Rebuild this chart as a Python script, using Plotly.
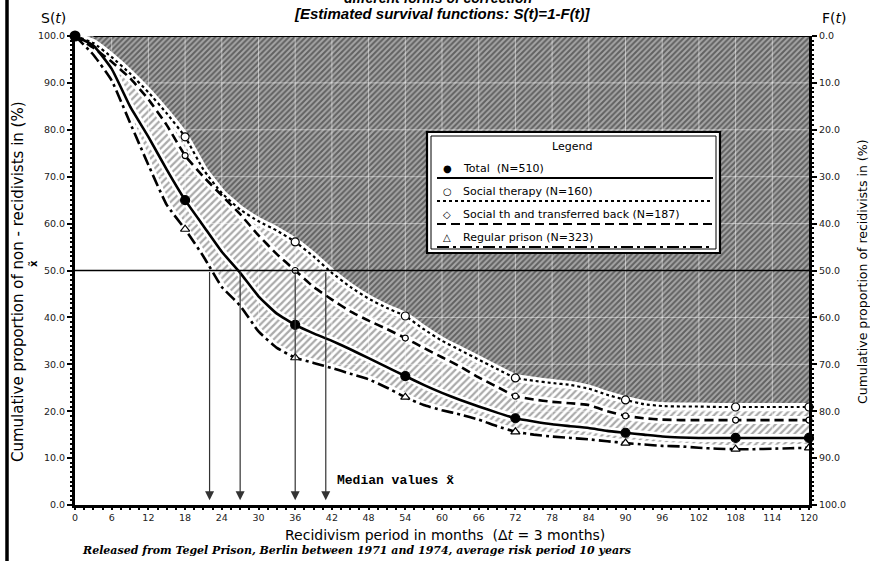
import plotly.graph_objects as go

# Survival functions S(t) in percent, sampled every 3 months
months = list(range(0, 121, 3))
total = [100, 98, 93, 85, 78.5, 71.5, 65, 59.5, 54, 49.5, 44.5, 40.8, 38.4, 36.6,
         35, 33.2, 31.3, 29.4, 27.5, 25.6, 23.9, 22.4, 21, 19.7, 18.5, 17.8, 17.2,
         16.8, 16.4, 15.8, 15.4, 15, 14.6, 14.4, 14.3, 14.3, 14.3, 14.3, 14.3, 14.3, 14.3]
social_therapy = [100, 98.5, 95.5, 92, 88, 83.5, 78.5, 71.5, 66.5, 63, 60.5, 58.5, 56.1,
                  53, 49.5, 46.5, 44, 42, 40.3, 37.5, 35, 33, 31, 29, 27.1, 26.5, 26,
                  25.6, 24.8, 23.5, 22.4, 21.5, 21.1, 21, 21, 20.9, 20.9, 20.9, 20.9, 20.9, 20.9]
transferred_back = [100, 97.5, 94.5, 91, 86.5, 81, 74.5, 70, 66, 62, 57.5, 53.5, 50,
                    46.5, 43.8, 41.3, 39.3, 37.5, 35.6, 33.5, 31.5, 29.5, 27.2, 25.2, 23.2,
                    22.5, 22, 21.7, 21.3, 20, 19, 18.5, 18.2, 18.1, 18.1, 18.1, 18.1, 18.1,
                    18.1, 18.1, 18.1]
regular_prison = [100, 96, 90.5, 81.5, 72.5, 64, 58.8, 53, 46.5, 42.5, 37, 33.5, 31.4,
                  30.3, 29.2, 28, 26.8, 25, 23, 21.3, 20.2, 19.3, 18.2, 16.8, 15.6, 15,
                  14.6, 14.3, 14, 13.6, 13.2, 12.9, 12.6, 12.5, 12.2, 12, 11.9, 11.9, 12,
                  12.1, 12.2]
marker_months = [18, 36, 54, 72, 90, 108, 120]
median_months = [22, 27, 36, 41]
x_ticks = list(range(0, 121, 6))
y_ticks = list(range(0, 101, 10))
top_line = [100] * len(months)

W, H = 870, 561
ML, MR, MT, MB = 75, 61, 36, 56
PW, PH = W - ML - MR, H - MT - MB


def px(x):
    return (x - ML) / PW


def py(y):
    return (H - MB - y) / PH


def at(series, ts):
    lookup = dict(zip(months, series))
    return [lookup[t] for t in ts]


FONT = "DejaVu Sans"
fig = go.Figure()

# Lower boundary of the light band
fig.add_trace(go.Scatter(x=months, y=regular_prison, mode="lines",
                         line=dict(width=0), hoverinfo="skip", showlegend=False))
# Light hatched band between the extreme curves
fig.add_trace(go.Scatter(x=months, y=social_therapy, mode="lines", fill="tonexty",
                         fillcolor="white",
                         fillpattern=dict(shape="/", fgcolor="#555555", bgcolor="white",
                                          size=5, solidity=0.45),
                         line=dict(width=0), hoverinfo="skip", showlegend=False))
# Dark hatched area above the highest survival curve
fig.add_trace(go.Scatter(x=months, y=top_line, mode="lines", fill="tonexty",
                         fillcolor="#8a8a8a",
                         fillpattern=dict(shape="/", fgcolor="#1c1c1c", bgcolor="#a6a6a6",
                                          size=4, solidity=0.5),
                         line=dict(width=0), hoverinfo="skip", showlegend=False))

# Light grid over the hatching
gx, gy = [], []
for t in x_ticks[1:-1]:
    gx += [t, t, None]
    gy += [0, 100, None]
for v in y_ticks[1:-1]:
    gx += [0, 120, None]
    gy += [v, v, None]
fig.add_trace(go.Scatter(x=gx, y=gy, mode="lines",
                         line=dict(color="rgba(255,255,255,0.5)", width=1),
                         hoverinfo="skip", showlegend=False))

series = [
    (social_therapy, "dot", 2.2, "circle", 8, "white"),
    (transferred_back, "9px,5px", 2.6, "circle", 6, "white"),
    (total, "solid", 2.6, "circle", 9, "black"),
    (regular_prison, "12px,4px,3px,4px", 2.6, "triangle-up", 8, "white"),
]

# White halos around each curve
for ys, *_ in series:
    fig.add_trace(go.Scatter(x=months, y=ys, mode="lines",
                             line=dict(color="white", width=8, shape="spline", smoothing=0.4),
                             hoverinfo="skip", showlegend=False))

for ys, dash, lw, sym, ms, mfill in series:
    fig.add_trace(go.Scatter(x=months, y=ys, mode="lines",
                             line=dict(color="black", width=lw, dash=dash,
                                       shape="spline", smoothing=0.4),
                             showlegend=False))

for ys, dash, lw, sym, ms, mfill in series:
    fig.add_trace(go.Scatter(x=marker_months, y=at(ys, marker_months), mode="markers",
                             marker=dict(symbol=sym, size=ms, color=mfill,
                                         line=dict(color="black", width=1.2)),
                             cliponaxis=False, showlegend=False))

# Starting point of all curves
fig.add_trace(go.Scatter(x=[months[0]], y=[total[0]], mode="markers",
                         marker=dict(symbol="circle", size=11, color="black"),
                         cliponaxis=False, showlegend=False))

# Recidivism function F(t) = 100 - S(t) on the right axis
fig.add_trace(go.Scatter(x=months, y=[100 - v for v in total], yaxis="y2",
                         mode="lines", line=dict(width=0), opacity=0,
                         hoverinfo="skip", showlegend=False))

shapes = []
# 50 % line
shapes.append(dict(type="line", xref="x", yref="y", x0=0, x1=120, y0=50, y1=50,
                   line=dict(color="black", width=1.3), layer="above"))
# Upper frame of the dark area
shapes.append(dict(type="line", xref="x", yref="y", x0=months[1], x1=120, y0=100, y1=100,
                   line=dict(color="black", width=2.2), layer="above"))
# Page edge
shapes.append(dict(type="line", xref="paper", yref="paper", x0=px(7), x1=px(7),
                   y0=py(H), y1=py(0), line=dict(color="black", width=3.5)))

# Legend box
shapes.append(dict(type="rect", xref="paper", yref="paper", x0=px(427), x1=px(720),
                   y0=py(253), y1=py(132), line=dict(color="black", width=2.2),
                   fillcolor="white", layer="above"))
shapes.append(dict(type="rect", xref="paper", yref="paper", x0=px(431), x1=px(716),
                   y0=py(249), y1=py(136), line=dict(color="black", width=1),
                   layer="above"))
legend_rows = [
    ("●", "Total  (N=510)", "solid", 2.2, 168),
    ("○", "Social therapy (N=160)", "dot", 2.0, 191),
    ("◇", "Social th and transferred back (N=187)", "9px,5px", 2.2, 214),
    ("△", "Regular prison (N=323)", "12px,4px,3px,4px", 2.2, 237),
]
annotations = []
for sym, label, dash, lw, ypix in legend_rows:
    shapes.append(dict(type="line", xref="paper", yref="paper", x0=px(437), x1=px(713),
                       y0=py(ypix + 10), y1=py(ypix + 10),
                       line=dict(color="black", width=lw, dash=dash), layer="above"))
    annotations.append(dict(xref="paper", yref="paper", x=px(447), y=py(ypix),
                            text=sym, showarrow=False, xanchor="center", yanchor="middle",
                            font=dict(family=FONT, size=10, color="black")))
    annotations.append(dict(xref="paper", yref="paper", x=px(461), y=py(ypix),
                            text=label, showarrow=False, xanchor="left", yanchor="middle",
                            font=dict(family=FONT, size=11, color="black")))
annotations.append(dict(xref="paper", yref="paper", x=px(572), y=py(146), text="Legend",
                        showarrow=False, xanchor="center", yanchor="middle",
                        font=dict(family=FONT, size=11, color="black")))

# Median arrows
for m in median_months:
    annotations.append(dict(xref="x", yref="y", axref="x", ayref="y", x=m, y=1,
                            ax=m, ay=50, text="", showarrow=True, arrowhead=2,
                            arrowsize=1.5, arrowwidth=1.2, arrowcolor="#333"))
annotations.append(dict(xref="paper", yref="paper", x=px(335), y=py(480),
                        text="<b>Median values x̃</b>", showarrow=False, xanchor="left",
                        yanchor="middle",
                        font=dict(family="Liberation Mono", size=13, color="black")))

# Titles and axis captions
annotations += [
    dict(xref="paper", yref="paper", x=px(438), y=py(-2),
         text="<b><i>different forms of correction</i></b>", showarrow=False,
         xanchor="center", yanchor="middle",
         font=dict(family="Liberation Sans", size=14, color="black")),
    dict(xref="paper", yref="paper", x=px(442), y=py(14),
         text="<b><i>[Estimated survival functions: S(t)=1-F(t)]</i></b>", showarrow=False,
         xanchor="center", yanchor="middle",
         font=dict(family="Liberation Sans", size=15, color="black")),
    dict(xref="paper", yref="paper", x=px(53), y=py(18), text="S(<i>t</i>)",
         showarrow=False, xanchor="center", yanchor="middle",
         font=dict(family=FONT, size=14, color="black")),
    dict(xref="paper", yref="paper", x=px(834), y=py(18), text="F(<i>t</i>)",
         showarrow=False, xanchor="center", yanchor="middle",
         font=dict(family=FONT, size=14, color="black")),
    dict(xref="paper", yref="paper", x=px(18), y=py(282),
         text="Cumulative proportion of non - recidivists in (%)", textangle=-90,
         showarrow=False, xanchor="center", yanchor="middle",
         font=dict(family=FONT, size=15, color="black")),
    dict(xref="paper", yref="paper", x=px(862), y=py(272),
         text="Cumulative proportion of recidivists in (%)", textangle=-90,
         showarrow=False, xanchor="center", yanchor="middle",
         font=dict(family=FONT, size=12.5, color="black")),
    dict(xref="paper", yref="paper", x=px(33), y=py(264), text="<b>x̃</b>", textangle=-90,
         showarrow=False, xanchor="center", yanchor="middle",
         font=dict(family=FONT, size=10, color="black")),
    dict(xref="paper", yref="paper", x=px(445), y=py(535),
         text="Recidivism period in months  (Δ<i>t</i> = 3 months)", showarrow=False,
         xanchor="center", yanchor="middle",
         font=dict(family=FONT, size=14, color="black")),
    dict(xref="paper", yref="paper", x=px(80), y=py(550),
         text="<b><i>Released from Tegel Prison, Berlin between 1971 and 1974, average risk period 10 years</i></b>",
         showarrow=False, xanchor="left", yanchor="middle",
         font=dict(family="DejaVu Serif", size=11, color="black")),
]

tick_font = dict(family=FONT, size=9.5, color="#222")
fig.update_layout(
    width=W, height=H, autosize=False,
    margin=dict(l=ML, r=MR, t=MT, b=MB),
    paper_bgcolor="white", plot_bgcolor="white",
    showlegend=False,
    shapes=shapes, annotations=annotations,
    xaxis=dict(range=[0, 120], tickmode="array", tickvals=x_ticks,
               ticktext=[str(t) for t in x_ticks], ticks="outside", ticklen=2,
               tickwidth=1.5, tickcolor="black", showline=True, linewidth=3,
               linecolor="black", showgrid=False, zeroline=False, tickfont=tick_font,
               minor=dict(dtick=1.5, tick0=0, ticks="outside", ticklen=2,
                          tickcolor="black", showgrid=False),
               layer="above traces"),
    yaxis=dict(range=[0, 100], tickmode="array", tickvals=y_ticks,
               ticktext=[f"{v:.1f}" for v in y_ticks], ticks="outside", ticklen=5,
               tickwidth=1.5, tickcolor="black", showline=True, linewidth=3,
               linecolor="black", showgrid=False, zeroline=False, tickfont=tick_font,
               minor=dict(dtick=1, tick0=0, ticks="outside", ticklen=2,
                          tickcolor="black", showgrid=False),
               layer="above traces"),
    yaxis2=dict(range=[100, 0], overlaying="y", side="right", anchor="x",
                tickmode="array", tickvals=y_ticks,
                ticktext=[f"{v:.1f}" for v in y_ticks], ticks="outside", ticklen=5,
                tickwidth=1.5, tickcolor="black", showline=True, linewidth=3,
                linecolor="black", showgrid=False, zeroline=False, tickfont=tick_font,
                minor=dict(dtick=1, tick0=0, ticks="outside", ticklen=2,
                           tickcolor="black", showgrid=False),
                layer="above traces"),
)

fig.write_html("out.html")
